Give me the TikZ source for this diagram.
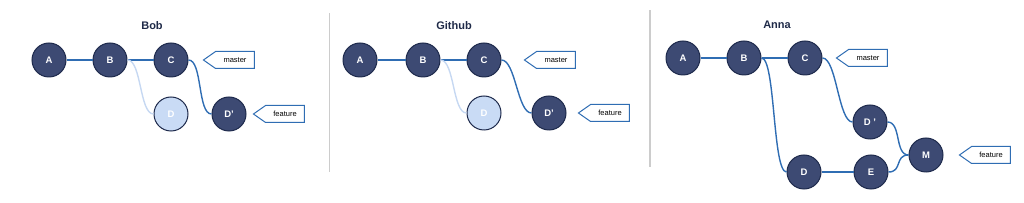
\documentclass[tikz,border=0pt]{standalone}
\usepackage{fontspec}
\setmainfont{Liberation Sans}
\usetikzlibrary{shapes.symbols}

\definecolor{commitfill}{HTML}{3D4A73}
\definecolor{commitdraw}{HTML}{1E2A4C}
\definecolor{oldfill}{HTML}{C9DBF5}
\definecolor{linkblue}{HTML}{2F6DB3}
\definecolor{oldblue}{HTML}{C6D8F2}
\definecolor{titlecol}{HTML}{1F2A48}

\tikzset{
    commit/.style={draw=commitdraw, fill=commitfill, circle, minimum size=34pt, inner sep=0pt, line width=1pt, text=white, font=\bfseries\fontsize{9.5}{11}\selectfont},
    oldcommit/.style={commit, fill=oldfill},
    branch/.style={draw=linkblue, fill=white, signal, signal to=west, signal pointer angle=70, minimum width=51pt, minimum height=17pt, inner sep=1pt, line width=1pt, font=\fontsize{7.5}{9}\selectfont},
    link/.style={draw=linkblue, line width=1.4pt},
    oldlink/.style={link, draw=oldblue},
    s curve/.style={out=0, in=180, min distance=14pt, max distance=14pt},
    title/.style={text=titlecol, font=\bfseries\fontsize{11}{13}\selectfont},
    divider/.style={draw=black!20, line width=1.5pt}
}

\begin{document}
\begin{tikzpicture}[x=1pt, y=1pt, node distance=61pt]
    \useasboundingbox (0,0) rectangle (1024,203);

    % Bob
    \node (bob title) [title] at (152,177) {Bob};
    \node (bob a) [commit] at (49,143) {A};
    \node (bob b) [commit, right of=bob a] {B};
    \node (bob c) [commit, right of=bob b] {C};
    \node (bob d) [oldcommit, below of=bob c, yshift=7pt] {D};
    \node (bob d2) [commit, right of=bob d, xshift=-3pt] {D'};
    \node (bob master) [branch, right of=bob c, xshift=3pt] {master};
    \node (bob feature) [branch, right of=bob d2, xshift=-5pt] {feature};

    \draw[link] (bob a) -- (bob b);
    \draw[link] (bob b) -- (bob c);
    \draw[oldlink] (bob b.east) to[s curve] (bob d.west);
    \draw[link] (bob c.east) to[s curve] (bob d2.west);

    \draw[divider] (329.5,31) -- (329.5,190);

    % Github
    \node (gh title) [title] at (454,177) {Github};
    \node (gh a) [commit] at (360,143) {A};
    \node (gh b) [commit, right of=gh a, xshift=2pt] {B};
    \node (gh c) [commit, right of=gh b] {C};
    \node (gh d) [oldcommit, below of=gh c, yshift=8pt] {D};
    \node (gh d2) [commit, right of=gh d, xshift=4pt] {D'};
    \node (gh master) [branch, right of=gh c, xshift=11pt] {master};
    \node (gh feature) [branch, right of=gh d2, xshift=0pt] {feature};

    \draw[link] (gh a) -- (gh b);
    \draw[link] (gh b) -- (gh c);
    \draw[oldlink] (gh b.east) to[s curve] (gh d.west);
    \draw[link] (gh c.east) to[s curve] (gh d2.west);

    \draw[divider] (650,36) -- (650,193);

    % Anna
    \node (anna title) [title] at (777,178) {Anna};
    \node (anna a) [commit] at (683,145) {A};
    \node (anna b) [commit, right of=anna a] {B};
    \node (anna c) [commit, right of=anna b] {C};
    \node (anna master) [branch, right of=anna c, xshift=2pt] {master};
    \node (anna d2) [commit, right of=anna c, xshift=4pt, yshift=-64pt] {D '};
    \node (anna m) [commit, right of=anna d2, xshift=-5pt, yshift=-33pt] {M};
    \node (anna feature) [branch, right of=anna m, xshift=4pt] {feature};
    \node (anna d) [commit, below of=anna c, yshift=-53pt, xshift=-1pt] {D};
    \node (anna e) [commit, right of=anna d, xshift=6pt] {E};

    \draw[link] (anna a) -- (anna b);
    \draw[link] (anna b) -- (anna c);
    \draw[link] (anna b.east) to[s curve] (anna d.west);
    \draw[link] (anna c.east) to[s curve] (anna d2.west);
    \draw[link] (anna d) -- (anna e);
    \draw[link] (anna d2.east) to[s curve] (anna m.west);
    \draw[link] (anna e.east) to[s curve] (anna m.west);
\end{tikzpicture}
\end{document}
